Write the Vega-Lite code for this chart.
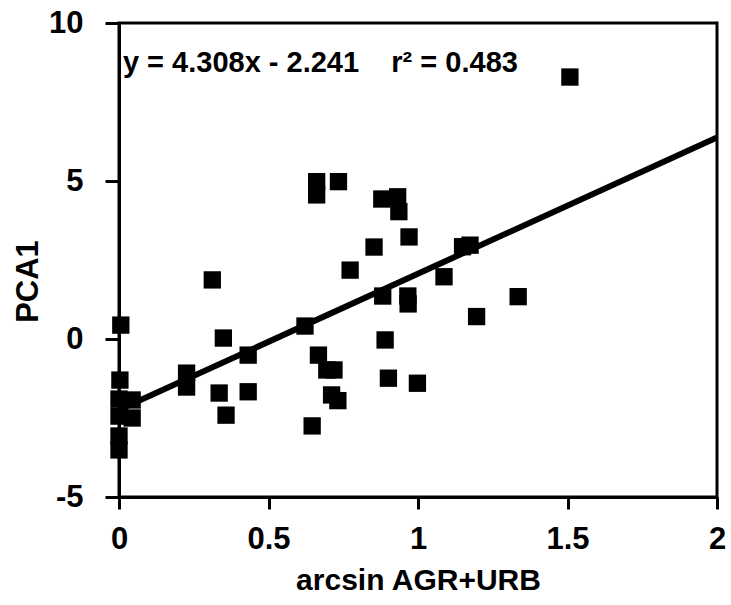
{
  "$schema": "https://vega.github.io/schema/vega-lite/v6.json",
  "width": 598,
  "height": 474,
  "autosize": {"type": "none"},
  "padding": {"left": 119, "top": 23, "right": 14, "bottom": 108},
  "background": "white",
  "config": {
    "view": {"stroke": "black", "strokeWidth": 3},
    "font": "Liberation Sans"
  },
  "datasets": {
    "pts": [
      {"x": 1.508, "y": 8.29},
      {"x": 0.006, "y": 0.44},
      {"x": 0.003, "y": -1.30},
      {"x": 0.0, "y": -1.90},
      {"x": 0.0, "y": -2.44},
      {"x": 0.0, "y": -3.07},
      {"x": 0.0, "y": -3.51},
      {"x": 0.044, "y": -1.93},
      {"x": 0.044, "y": -2.50},
      {"x": 0.226, "y": -1.08},
      {"x": 0.226, "y": -1.52},
      {"x": 0.312, "y": 1.87},
      {"x": 0.349, "y": 0.03},
      {"x": 0.335, "y": -1.71},
      {"x": 0.358, "y": -2.41},
      {"x": 0.432, "y": -0.51},
      {"x": 0.432, "y": -1.67},
      {"x": 0.622, "y": 0.41},
      {"x": 0.646, "y": -2.75},
      {"x": 0.667, "y": -0.51},
      {"x": 0.661, "y": 4.98},
      {"x": 0.661, "y": 4.56},
      {"x": 0.734, "y": 4.98},
      {"x": 0.695, "y": -0.98},
      {"x": 0.719, "y": -0.98},
      {"x": 0.711, "y": -1.77},
      {"x": 0.732, "y": -1.95},
      {"x": 0.773, "y": 2.18},
      {"x": 0.853, "y": 2.91},
      {"x": 0.879, "y": 4.43},
      {"x": 0.882, "y": 1.36},
      {"x": 0.890, "y": -0.03},
      {"x": 0.901, "y": -1.24},
      {"x": 0.932, "y": 4.50},
      {"x": 0.936, "y": 4.03},
      {"x": 0.966, "y": 1.36},
      {"x": 0.967, "y": 1.11},
      {"x": 0.970, "y": 3.23},
      {"x": 0.998, "y": -1.40},
      {"x": 1.087, "y": 1.97},
      {"x": 1.149, "y": 2.92},
      {"x": 1.174, "y": 2.97},
      {"x": 1.196, "y": 0.71},
      {"x": 1.335, "y": 1.34}
    ],
    "fit": [
      {"x": 0, "y": -2.241},
      {"x": 2, "y": 6.375}
    ],
    "note": [
      {"x": 0.013, "y": 8.73, "label": "y = 4.308x - 2.241\u00a0\u00a0\u00a0\u00a0r² = 0.483"}
    ]
  },
  "layer": [
    {
      "data": {"name": "fit"},
      "mark": {"type": "line", "color": "black", "strokeWidth": 6, "clip": true},
      "encoding": {
        "x": {
          "field": "x", "type": "quantitative",
          "scale": {"domain": [0, 2], "nice": false, "zero": false},
          "axis": {
            "title": "arcsin AGR+URB",
            "values": [0, 0.5, 1, 1.5, 2],
            "labelExpr": "datum.value + ''",
            "grid": false,
            "domainColor": "black", "domainWidth": 3,
            "tickColor": "black", "tickWidth": 3, "tickSize": 12,
            "labelFont": "Liberation Sans", "labelFontWeight": "bold", "labelFontSize": 31,
            "labelColor": "black", "labelPadding": 15,
            "labelFlush": false, "labelOverlap": false,
            "titleFont": "Liberation Sans", "titleFontWeight": "bold", "titleFontSize": 30,
            "titleColor": "black", "titleY": 68, "titleBaseline": "top"
          }
        },
        "y": {
          "field": "y", "type": "quantitative",
          "scale": {"domain": [-5, 10], "nice": false, "zero": false},
          "axis": {
            "title": "PCA1",
            "values": [-5, 0, 5, 10],
            "labelExpr": "datum.value + ''",
            "grid": false,
            "domainColor": "black", "domainWidth": 3,
            "tickColor": "black", "tickWidth": 3, "tickSize": 14,
            "labelFont": "Liberation Sans", "labelFontWeight": "bold", "labelFontSize": 31,
            "labelColor": "black", "labelPadding": 22,
            "labelFlush": false, "labelOverlap": false,
            "titleFont": "Liberation Sans", "titleFontWeight": "bold", "titleFontSize": 31,
            "titleColor": "black", "titleX": -91, "titleY": 258, "titleAngle": -90,
            "titleAlign": "center", "titleBaseline": "middle"
          }
        }
      }
    },
    {
      "data": {"name": "pts"},
      "mark": {"type": "square", "color": "black", "filled": true, "opacity": 1, "size": 300},
      "encoding": {
        "x": {"field": "x", "type": "quantitative"},
        "y": {"field": "y", "type": "quantitative"}
      }
    },
    {
      "data": {"name": "note"},
      "mark": {"type": "text", "align": "left", "baseline": "middle", "font": "Liberation Sans", "fontWeight": "bold", "fontSize": 29, "color": "black"},
      "encoding": {
        "x": {"field": "x", "type": "quantitative"},
        "y": {"field": "y", "type": "quantitative"},
        "text": {"field": "label"}
      }
    }
  ]
}
